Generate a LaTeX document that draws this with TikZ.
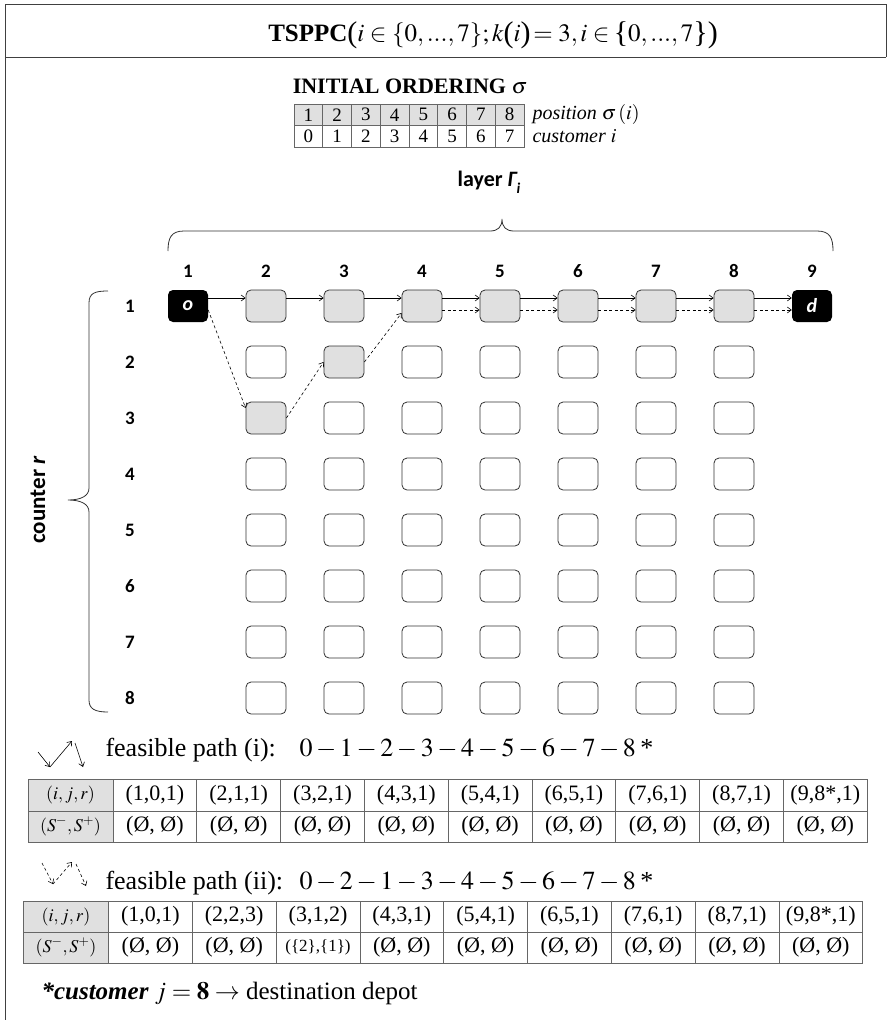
\documentclass[tikz,border=0pt]{standalone}
\usepackage{mathptmx}
\usepackage{fontspec}
\setmainfont{Liberation Serif}
\newfontfamily\sansf{Carlito}
\usetikzlibrary{arrows.meta}
\newcommand\bigp[1]{{\fontsize{30}{30}\selectfont\raisebox{-1.5pt}{#1}}}
\begin{document}
\begin{tikzpicture}[x=1pt,y=-1pt,
  frame/.style={draw=black!75, line width=1pt},
  cell/.style={draw=black!80, line width=0.8pt, rounded corners=5pt, minimum width=40pt, minimum height=32pt, inner sep=0pt, fill=white},
  pcell/.style={cell, fill=black!12},
  depot/.style={fill=black, rounded corners=5pt, minimum width=40pt, minimum height=32pt, inner sep=0pt, text=white, font=\sansf\bfseries\itshape\fontsize{20}{20}\selectfont},
  lab/.style={font=\sansf\bfseries\fontsize{19}{19}\selectfont},
  arr/.style={-{Straight Barb[length=4pt,width=6pt]}, line width=0.6pt},
  darr/.style={arr, dash pattern=on 3pt off 2.5pt},
  tcell/.style={draw=black!60, line width=0.8pt, minimum width=28.75pt, minimum height=21.5pt, inner sep=0pt, font=\fontsize{19}{19}\selectfont},
  pc/.style={draw=black!60, line width=0.8pt, minimum width=83.8pt, inner sep=0pt, font=\fontsize{22}{22}\selectfont},
  hc/.style={pc, minimum width=85pt, fill=black!12, font=\fontsize{18}{18}\selectfont},
  brace/.style={draw=black!80, line width=0.8pt},
]
\useasboundingbox (0,0) rectangle (889,1020);

% frame
\draw[frame] (886,57) -- (886,4) -- (5,4) -- (5,1020);
\draw[frame] (5,57) -- (886,57);

% title
\node[anchor=base] (title) at (493,41) {\fontsize{25}{25}\selectfont\textbf{TSPPC}\bigp{(}$i\in\{0,...,7\}; k$\bigp{(}$i$\bigp{)}$\,=3, i\in$\,\bigp{\{}$0,...,7$\bigp{\}}\bigp{)}};

% initial ordering
\node (ioh) at (410,86) {\fontsize{22}{22}\selectfont\textbf{INITIAL ORDERING} $\sigma$};
\foreach \k in {1,...,8} {
  \pgfmathsetmacro\xx{294+28.75*(\k-0.5)}
  \pgfmathtruncatemacro\kk{\k-1}
  \node[tcell, fill=black!12] (pos\k) at (\xx,114.75) {\k};
  \node[tcell] (cus\k) at (\xx,136.25) {\kk};
}
\node[anchor=west, font=\itshape\fontsize{20}{20}\selectfont] (poslab) at (529,114.75) {position $\sigma\left(i\right)$};
\node[anchor=west, font=\itshape\fontsize{20}{20}\selectfont] (cuslab) at (529,136.25) {customer $i$};

% layer
\node (layer) at (489,182) {\sansf\bfseries\fontsize{22}{22}\selectfont layer \itshape Γ\raisebox{-0.3em}{\fontsize{15}{15}\selectfont i}};
\draw[brace] (168,251) .. controls (168,238) and (171,231) .. (184,231) -- (490,231) .. controls (498,231) and (502,227) .. (502,219) .. controls (502,227) and (506,231) .. (514,231) -- (817,231) .. controls (830,231) and (833,238) .. (833,251);

% column labels
\foreach \c in {1,...,9} {
  \node[lab] (col\c) at ({188+78*(\c-1)},271) {\c};
}
% row labels
\foreach \r in {1,...,8} {
  \node[lab] (row\r) at (130,{306+56*(\r-1)}) {\r};
}
% left brace
\draw[brace] (108,291) .. controls (95,291) and (89,293) .. (89,303) -- (89,488) .. controls (89,496) and (81,500) .. (68,500) .. controls (81,500) and (89,504) .. (89,512) -- (89,700) .. controls (89,709) and (95,712) .. (108,712);
\node[rotate=90, font=\sansf\bfseries\fontsize{23}{23}\selectfont] (ctr) at (38,500) {counter \itshape r};

% grid
\foreach \c in {2,...,8} {
  \foreach \r in {1,...,8} {
    \pgfmathsetmacro\g{(\r==1)||((\c==2)&&(\r==3))||((\c==3)&&(\r==2))}
    \ifdim\g pt>0.5pt \def\st{pcell}\else\def\st{cell}\fi
    \node[\st] (n-\c-\r) at ({188+78*(\c-1)},{306+56*(\r-1)}) {};
  }
}
\node[depot] (o) at (188,306) {o};
\node[depot] (d) at (812,306) {d};

% path (i): solid
\foreach \a/\b in {o/n-2-1, n-2-1/n-3-1, n-3-1/n-4-1, n-4-1/n-5-1, n-5-1/n-6-1, n-6-1/n-7-1, n-7-1/n-8-1, n-8-1/d} {
  \draw[arr] ([yshift=8pt]\a.east) -- ([yshift=8pt]\b.west);
}
% path (ii): dashed
\draw[darr] ([yshift=-4pt]o.east) -- ([yshift=10pt]n-2-3.west);
\draw[darr] (n-2-3.east) -- (n-3-2.west);
\draw[darr] (n-3-2.east) -- ([yshift=-7pt]n-4-1.west);
\foreach \a/\b in {n-4-1/n-5-1, n-5-1/n-6-1, n-6-1/n-7-1, n-7-1/n-8-1, n-8-1/d} {
  \draw[darr] ([yshift=-4pt]\a.east) -- ([yshift=-4pt]\b.west);
}

% legend (i)
\coordinate (ia) at (38,752);
\coordinate (ib) at (50,767);
\coordinate (ic) at (72,741);
\coordinate (id) at (75,743);
\coordinate (ie) at (83,767);
\draw[arr] (ia) -- (ib);
\draw[arr] (ib) -- (ic);
\draw[arr] (id) -- (ie);
\node[anchor=base west, font=\fontsize{26}{26}\selectfont] (fp1) at (102,756) {feasible path (i):};
\node[anchor=base west, font=\fontsize{26}{26}\selectfont] (seq1) at (296,756) {$0-1-2-3-4-5-6-7-8$\,*};

% table (i)
\node[hc, minimum height=32pt] (ah) at (70.5,795) {$\left(i, j, r\right)$};
\node[hc, minimum height=31pt] (bh) at (70.5,826.5) {$\left(S^{-},S^{+}\right)$};
\foreach \t [count=\k] in {(1,0,1),(2,1,1),(3,2,1),(4,3,1),(5,4,1),(6,5,1),(7,6,1),(8,7,1),(9,8*,1)} {
  \pgfmathsetmacro\xx{113+83.8*(\k-0.5)}
  \node[pc, minimum height=32pt] (a\k) at (\xx,795) {\t};
  \node[pc, minimum height=31pt] (b\k) at (\xx,826.5) {(Ø, Ø)};
}

% legend (ii)
\coordinate (ja) at (42,863);
\coordinate (jb) at (53,884);
\coordinate (jc) at (72,862);
\coordinate (jd) at (76,864);
\coordinate (je) at (86,886);
\draw[darr] (ja) -- (jb);
\draw[darr] (jb) -- (jc);
\draw[darr] (jd) -- (je);
\node[anchor=base west, font=\fontsize{26}{26}\selectfont] (fp2) at (102,889) {feasible path (ii):};
\node[anchor=base west, font=\fontsize{26}{26}\selectfont] (seq2) at (296,889) {$0-2-1-3-4-5-6-7-8$\,*};

% table (ii)
\node[hc, minimum height=31pt] (ch) at (66,916.5) {$\left(i, j, r\right)$};
\node[hc, minimum height=31pt] (dh) at (66,947.5) {$\left(S^{-},S^{+}\right)$};
\foreach \t/\s [count=\k] in {(1,0,1)/0,(2,2,3)/0,(3,1,2)/1,(4,3,1)/0,(5,4,1)/0,(6,5,1)/0,(7,6,1)/0,(8,7,1)/0,(9,8*,1)/0} {
  \pgfmathsetmacro\xx{108.5+83.8*(\k-0.5)}
  \node[pc, minimum height=31pt] (c\k) at (\xx,916.5) {\t};
  \ifnum\s=1
    \node[pc, minimum height=31pt, font=\fontsize{17}{17}\selectfont] (e\k) at (\xx,947.5) {(\{2\},\{1\})};
  \else
    \node[pc, minimum height=31pt] (e\k) at (\xx,947.5) {(Ø, Ø)};
  \fi
}

% footer
\node[anchor=base west, font=\fontsize{25}{25}\selectfont] (foot) at (38,999) {\textbf{\textit{*customer}} $j=\mathbf{8}\rightarrow$ destination depot};
\end{tikzpicture}
\end{document}
